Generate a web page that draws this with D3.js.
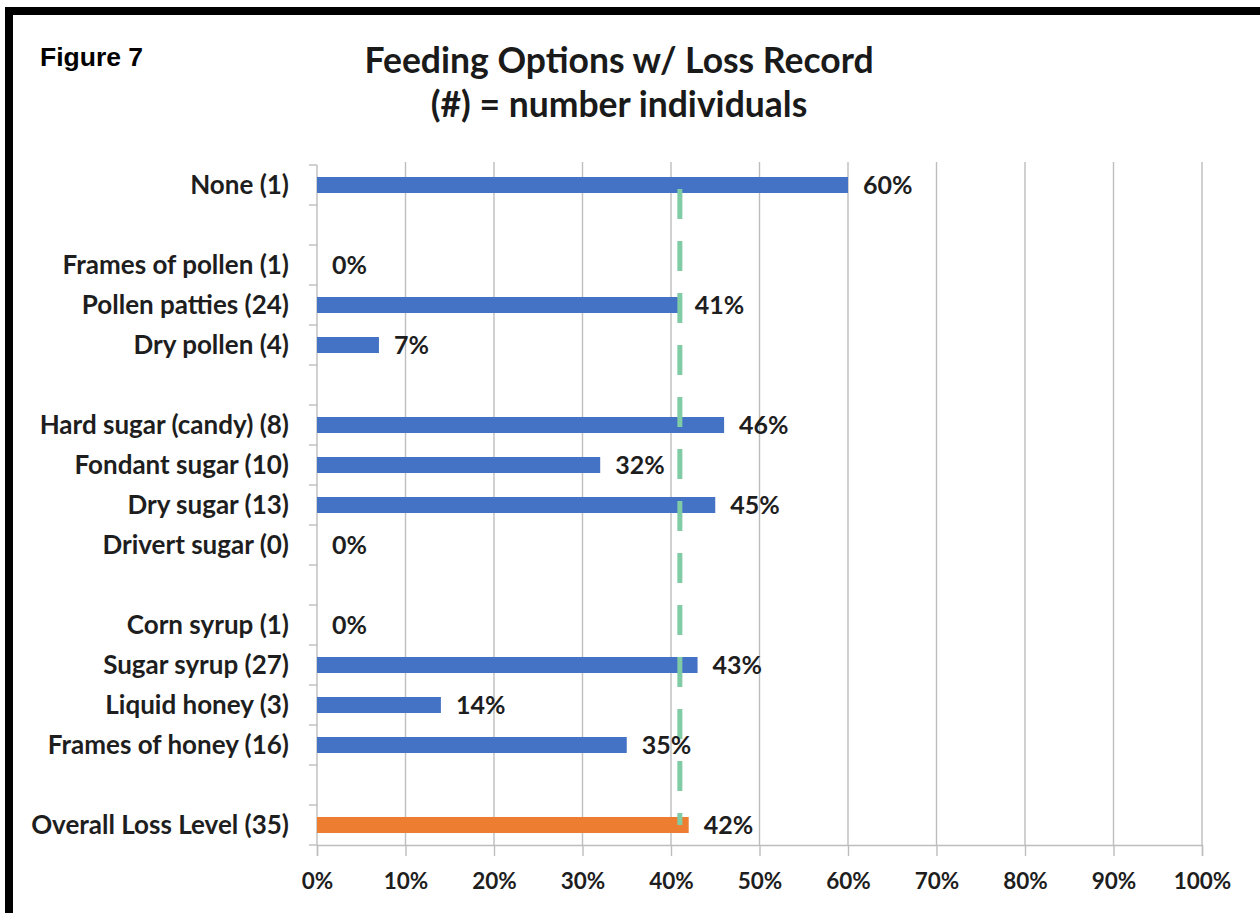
<!DOCTYPE html>
<html>
<head>
<meta charset="utf-8">
<script src="https://cdn.jsdelivr.net/npm/d3@7"></script>
<style>
  html, body { margin: 0; padding: 0; background: #fff; }
  svg { display: block; }
</style>
</head>
<body>
<div id="chart"></div>
<script>
// Feeding options vs. colony loss, one row per option; empty strings are spacer rows between groups
const categories = [
  "None (1)", "",
  "Frames of pollen (1)", "Pollen patties (24)", "Dry pollen (4)", "",
  "Hard sugar (candy) (8)", "Fondant sugar (10)", "Dry sugar (13)", "Drivert sugar (0)", "",
  "Corn syrup (1)", "Sugar syrup (27)", "Liquid honey (3)", "Frames of honey (16)", "",
  "Overall Loss Level (35)"
];
// loss percentage per row (null for spacer rows)
const lossValues = [
  60, null,
  0, 41, 7, null,
  46, 32, 45, 0, null,
  0, 43, 14, 35, null,
  42
];
// the last row is the overall level, drawn in orange
const overallIndex = 16;
// dashed reference level across all rows
const referenceLevel = 41;
const xTicks = [0, 10, 20, 30, 40, 50, 60, 70, 80, 90, 100];
const titleLines = ["Feeding Options w/ Loss Record", "(#) = number individuals"];
const figureLabel = "Figure 7";

const W = 1260, H = 913;
const plot = { left: 317, right: 1202, top: 165, bottom: 845 };
const font = "Lato, 'Open Sans', sans-serif";
const textColor = "#1e1e1e";

const svg = d3.select("#chart").append("svg")
  .attr("width", W).attr("height", H);

svg.append("rect").attr("width", W).attr("height", H).attr("fill", "#fff");

// heavy frame around the figure
svg.append("rect")
  .attr("x", 9).attr("y", 11)
  .attr("width", 1300).attr("height", 1000)
  .attr("fill", "none").attr("stroke", "#000").attr("stroke-width", 8);

svg.append("text")
  .attr("x", 40).attr("y", 66)
  .attr("font-family", "'Liberation Sans', Arial, sans-serif")
  .attr("font-weight", "bold").attr("font-size", 26.5)
  .attr("fill", "#000")
  .text(figureLabel);

svg.selectAll("text.title").data(titleLines).enter().append("text")
  .attr("class", "title")
  .attr("x", 619).attr("y", (d, i) => 73 + i * 44)
  .attr("text-anchor", "middle")
  .attr("font-family", font).attr("font-weight", "bold").attr("font-size", 35.5)
  .attr("fill", "#1a1a1a")
  .text(d => d);

const x = d3.scaleLinear().domain([0, 100]).range([plot.left, plot.right]);
const y = d3.scaleBand().domain(d3.range(categories.length))
  .range([plot.top, plot.bottom]).paddingInner(0.6).paddingOuter(0.3);
const step = y.step();

// vertical gridlines
svg.append("g").selectAll("line").data(xTicks.slice(1)).enter().append("line")
  .attr("x1", d => x(d)).attr("x2", d => x(d))
  .attr("y1", plot.top - 3).attr("y2", plot.bottom)
  .attr("stroke", "#bdbdbd").attr("stroke-width", 1.4);

// bottom axis
const xAxis = d3.axisBottom(x).tickValues(xTicks).tickFormat(d => d + "%")
  .tickSize(11).tickPadding(17);
const gx = svg.append("g").attr("transform", `translate(0,${plot.bottom})`).call(xAxis);
gx.select(".domain").attr("stroke", "#bdbdbd").attr("stroke-width", 1.4);
gx.selectAll(".tick line").attr("stroke", "#bdbdbd").attr("stroke-width", 1.4);
gx.selectAll(".tick text")
  .attr("font-family", font).attr("font-weight", "bold").attr("font-size", 22.5)
  .attr("fill", textColor);

// left axis line with ticks between rows
const boundaries = d3.range(categories.length + 1).map(i => plot.top + i * step);
svg.append("line")
  .attr("x1", plot.left).attr("x2", plot.left)
  .attr("y1", plot.top).attr("y2", plot.bottom)
  .attr("stroke", "#bdbdbd").attr("stroke-width", 1.4);
svg.append("g").selectAll("line").data(boundaries).enter().append("line")
  .attr("x1", plot.left - 8).attr("x2", plot.left)
  .attr("y1", d => d).attr("y2", d => d)
  .attr("stroke", "#bdbdbd").attr("stroke-width", 1.4);

// category labels
svg.append("g").selectAll("text").data(categories).enter().append("text")
  .attr("x", 289)
  .attr("y", (d, i) => y(i) + y.bandwidth() / 2)
  .attr("dy", "0.35em")
  .attr("text-anchor", "end")
  .attr("font-family", font).attr("font-weight", "bold").attr("font-size", 26)
  .attr("fill", textColor)
  .text(d => d);

const rows = lossValues.map((v, i) => ({ i, v })).filter(d => d.v !== null);

// bars
svg.append("g").selectAll("rect").data(rows).enter().append("rect")
  .attr("x", x(0))
  .attr("y", d => y(d.i))
  .attr("width", d => x(d.v) - x(0))
  .attr("height", y.bandwidth())
  .attr("fill", d => d.i === overallIndex ? "#ED7D31" : "#4472C4");

// dashed reference level
svg.append("line")
  .attr("x1", x(referenceLevel)).attr("x2", x(referenceLevel))
  .attr("y1", y(0) + y.bandwidth() / 2)
  .attr("y2", y(overallIndex) + y.bandwidth() / 2)
  .attr("stroke", "#7fcca5").attr("stroke-width", 5)
  .attr("stroke-dasharray", "30,22")
  .attr("stroke-dashoffset", -4);

// value labels
svg.append("g").selectAll("text").data(rows).enter().append("text")
  .attr("x", d => x(d.v) + 15)
  .attr("y", d => y(d.i) + y.bandwidth() / 2)
  .attr("dy", "0.36em")
  .attr("font-family", font).attr("font-weight", "bold").attr("font-size", 25)
  .attr("fill", textColor)
  .text(d => d.v + "%");
</script>
</body>
</html>
